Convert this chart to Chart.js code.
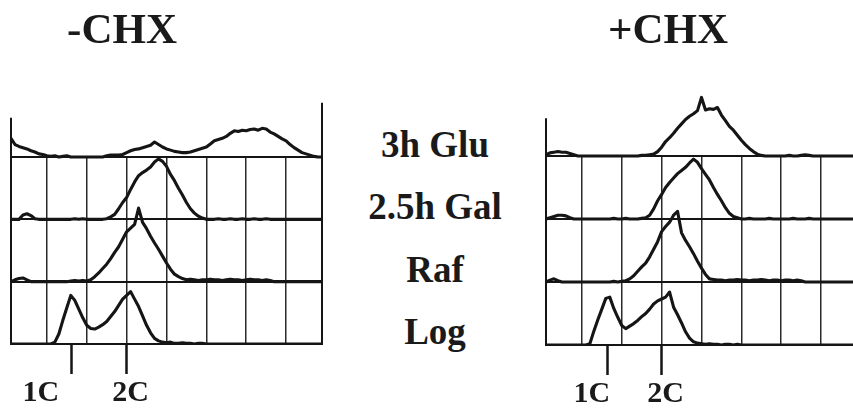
<!DOCTYPE html>
<html><head><meta charset="utf-8">
<script src="https://cdn.jsdelivr.net/npm/chart.js@4/dist/chart.umd.min.js"></script>
<style>
html,body{margin:0;padding:0;background:#fff;}
#wrap{position:relative;width:853px;height:413px;overflow:hidden;background:#fff;}
canvas{position:absolute;top:0;}
.t{position:absolute;font-family:"Liberation Serif","Times New Roman",serif;font-weight:bold;color:#1a1a1a;line-height:1;white-space:nowrap;transform:translateX(-50%);}
</style></head><body>
<div id="wrap">
  <canvas id="cl" width="335" height="413" style="left:0px"></canvas>
  <canvas id="cr" width="323" height="413" style="left:530px"></canvas>
</div>
<script>
// ---------- DATA ----------
const panelTitles = ['-CHX', '+CHX'];
const rowLabels = ['3h Glu', '2.5h Gal', 'Raf', 'Log'];
// DNA-content channels (grid lines every 10 channels, starting at channel 9)
const channels = [0,1,2,3,4,5,6,7,8,9,10,11,12,13,14,15,16,17,18,19,20,21,22,23,24,25,26,27,28,29,30,31,32,33,34,35,36,37,38,39,40,41,42,43,44,45,46,47,48,49,50,51,52,53,54,55,56,57,58,59,60,61,62,63,64,65,66,67,68,69,70,71,72,73,74,75,76,77,78];
const gridChannels = [9,19,29,39,49,59,69];
const tickLabels = ['1C', '2C'];
const tickChannelsMinus = [15.25, 29];   // tick marks, -CHX
const labelChannelsMinus = [7.5, 30];    // tick label centres, -CHX
const tickChannelsPlus = [15.4, 29];     // tick marks, +CHX
const labelChannelsPlus = [11.5, 30];    // tick label centres, +CHX

// -CHX histograms (height as fraction of one row)
const minusGlu = [0.30,0.20,0.17,0.15,0.13,0.10,0.08,0.05,0.04,0.02, 0.01,0.02,0,0.01,0.02,0,0,0,0,0, 0,0,0,0,0.02,0.03,0.03,0.03,0.04,0.07, 0.10,0.12,0.13,0.15,0.17,0.19,0.24,0.20,0.16,0.13, 0.11,0.09,0.08,0.07,0.07,0.08,0.10,0.12,0.14,0.16, 0.21,0.26,0.28,0.30,0.33,0.38,0.42,0.41,0.43,0.42, 0.44,0.45,0.43,0.46,0.45,0.40,0.37,0.33,0.29,0.26, 0.20,0.15,0.11,0.07,0.05,0.03,0.01,0,0];
const minusGal = [0,0,0,0.07,0.09,0.06,0.01,0,0,0, 0,0,0,0,0,0,0.01,0,0.01,0, 0,0,0,0,0.01,0.04,0.08,0.17,0.27,0.35, 0.48,0.60,0.70,0.75,0.79,0.84,0.92,0.97,0.93,0.85, 0.72,0.62,0.50,0.39,0.27,0.17,0.10,0.05,0.02,0, 0,0,0.01,0,0,0.01,0,0,0.01,0, 0,0.01,0,0,0.01,0,0,0,0,0, 0,0,0,0,0,0,0,0,0];
const minusRaf = [0,0.03,0.05,0.06,0.03,0,0,0,0,0, 0,0,0,0,0,0.01,0.02,0.01,0.02,0.01, 0.03,0.08,0.14,0.21,0.28,0.37,0.47,0.56,0.68,0.80, 0.86,0.92,1.18,0.95,0.85,0.73,0.62,0.52,0.41,0.30, 0.20,0.12,0.08,0.05,0.03,0.04,0.03,0.02,0.03,0.03, 0.04,0.03,0.03,0.02,0.03,0.04,0.03,0.03,0.02,0.03, 0.04,0.03,0.03,0.02,0.03,0.02,0,0,0,0, 0,0,0,0,0,0,0,0,0];
const minusLog = [0,0,0,0,0,0,0,0,0,0, 0,0.03,0.16,0.38,0.58,0.78,0.70,0.56,0.42,0.30, 0.25,0.24,0.27,0.31,0.36,0.44,0.52,0.62,0.72,0.78, 0.84,0.72,0.60,0.45,0.30,0.18,0.09,0.05,0.03,0.02, 0.03,0.01,0.01,0.02,0.01,0.01,0,0.01,0.01,0, 0,0,0,0,0,0,0,0,0,0, 0,0,0,0,0,0,0,0,0,0, 0,0,0,0,0,0,0,0,0];

// +CHX histograms
const plusGlu = [0.02,0.05,0.06,0.07,0.06,0.06,0.04,0.02,0,0, 0,0,0,0,0,0,0,0,0,0, 0,0,0,0,0.01,0.01,0.02,0.03,0.07,0.14, 0.23,0.29,0.36,0.44,0.51,0.58,0.63,0.67,0.72,0.93, 0.73,0.75,0.74,0.77,0.65,0.56,0.47,0.41,0.33,0.25, 0.18,0.12,0.07,0.03,0.01,0,0,0,0,0, 0,0.01,0,0,0.01,0.02,0.01,0,0,0, 0,0,0,0,0,0,0,0,0];
const plusGal = [0,0.02,0.04,0.06,0.06,0.05,0.02,0,0,0, 0,0,0,0,0,0,0,0.01,0,0, 0.01,0,0,0,0.01,0.02,0.06,0.16,0.29,0.39, 0.50,0.58,0.65,0.72,0.77,0.82,0.89,0.95,0.90,0.80, 0.71,0.62,0.50,0.39,0.29,0.18,0.09,0.04,0.02,0, 0,0.01,0,0,0,0,0.01,0,0,0, 0,0,0.01,0,0,0,0.01,0,0,0, 0,0,0,0,0,0,0,0,0];
const plusRaf = [0,0.03,0.05,0.02,0,0,0,0,0,0, 0,0,0,0,0,0,0,0.01,0,0.01, 0.02,0.05,0.10,0.17,0.24,0.30,0.40,0.52,0.64,0.80, 0.88,0.95,1.06,1.12,0.78,0.66,0.56,0.45,0.33,0.22, 0.12,0.05,0.04,0.03,0.03,0.02,0.03,0.03,0.04,0.03, 0.03,0.02,0.03,0.03,0.04,0.03,0.02,0.03,0.03,0.02, 0.03,0.03,0.02,0.03,0.02,0,0,0,0,0, 0,0,0,0,0,0,0,0,0];
const plusLog = [0,0,0,0,0,0,0,0,0,0, 0,0.02,0.22,0.40,0.57,0.74,0.76,0.58,0.44,0.31, 0.26,0.30,0.34,0.39,0.45,0.50,0.57,0.65,0.70,0.73, 0.76,0.84,0.60,0.48,0.35,0.21,0.11,0.05,0.03,0.02, 0.01,0.02,0.01,0.01,0,0.01,0.01,0,0.01,0, 0,0,0,0,0,0,0,0,0,0, 0,0,0,0,0,0,0,0,0,0, 0,0,0,0,0,0,0,0,0];

// ---------- CHART BUILDING ----------
const rowBase = [3, 2, 1, 0];   // stacking offset of each row (top to bottom)
const INK = '#151515';
const SERIF = '"Liberation Serif","Times New Roman",serif';

const framePlugin = {
  id: 'frame',
  beforeDatasetsDraw(chart, args, opts) {
    const {ctx, scales: {x, y}} = chart;
    ctx.save();
    ctx.strokeStyle = INK;
    ctx.lineWidth = 2;
    opts.sides.forEach(s => {
      const px = x.getPixelForValue(s.at);
      ctx.beginPath();
      ctx.moveTo(px, y.getPixelForValue(0) + 1);
      ctx.lineTo(px, y.getPixelForValue(s.top));
      ctx.stroke();
    });
    ctx.restore();
  }
};

function makePanel(canvasId, series, xMax, ticksAt, labelsAt, sides, padding) {
  const datasets = series.map((vals, i) => ({
    label: rowLabels[i],
    data: vals.map(v => v + rowBase[i]),
    borderColor: INK,
    borderWidth: 3.1,
    pointRadius: 0,
    tension: 0,
    fill: false,
    borderJoinStyle: 'round',
    clip: {left: 0, top: false, right: 0, bottom: 0}
  }));
  return new Chart(document.getElementById(canvasId), {
    type: 'line',
    data: {labels: channels, datasets},
    plugins: [framePlugin],
    options: {
      responsive: false, animation: false, devicePixelRatio: 1,
      layout: {padding},
      plugins: {legend: {display: false}, tooltip: {enabled: false}, frame: {sides}},
      scales: {
        x: {
          type: 'linear', min: 0, max: xMax, weight: 0,
          afterBuildTicks: s => { s.ticks = gridChannels.map(v => ({value: v})); },
          grid: {color: '#2a2a2a', lineWidth: 1.5, drawTicks: false},
          border: {display: false},
          ticks: {display: false}
        },
        x2: {
          type: 'linear', position: 'bottom', min: 0, max: xMax, weight: 1,
          afterBuildTicks: s => { s.ticks = ticksAt.map(v => ({value: v})); },
          grid: {drawOnChartArea: false, drawTicks: true, tickLength: 30, tickWidth: 2.5, tickColor: INK},
          border: {display: false},
          ticks: {display: false}
        },
        x3: {
          type: 'linear', position: 'bottom', min: 0, max: xMax, weight: 2,
          afterBuildTicks: s => { s.ticks = labelsAt.map(v => ({value: v})); },
          grid: {display: false, drawTicks: false},
          border: {display: false},
          ticks: {
            autoSkip: false, maxRotation: 0, padding: 1, color: '#1a1a1a',
            font: {family: SERIF, size: 30, weight: 'bold'},
            callback: (v, i) => tickLabels[i]
          }
        },
        y: {
          type: 'linear', min: 0, max: 3,
          afterBuildTicks: s => { s.ticks = rowBase.map(v => ({value: v})); },
          grid: {color: INK, lineWidth: 2, drawTicks: false},
          border: {display: false},
          ticks: {display: false}
        }
      }
    }
  });
}

const left = makePanel('cl', [minusGlu, minusGal, minusRaf, minusLog], 78,
  tickChannelsMinus, labelChannelsMinus,
  [{at: 0, top: 3.63}, {at: 78, top: 3.87}],
  {top: 157, left: 11, right: 13, bottom: 1});
const right = makePanel('cr', [plusGlu, plusGal, plusRaf, plusLog], 77,
  tickChannelsPlus, labelChannelsPlus,
  [{at: 0, top: 3.6}],
  {top: 156, left: 16, right: 0, bottom: 0});

// ---------- TEXT ----------
const wrap = document.getElementById('wrap');
function addText(txt, cx, top, size) {
  const d = document.createElement('div');
  d.className = 't';
  d.textContent = txt;
  d.style.left = cx + 'px';
  d.style.top = top + 'px';
  d.style.fontSize = size + 'px';
  wrap.appendChild(d);
}
// panel titles
addText(panelTitles[0], 122, 7, 43);
addText(panelTitles[1], 668, 7, 43);
// row labels: baseline on each row's baseline
rowLabels.forEach((lab, i) => {
  const yb = left.scales.y.getPixelForValue(rowBase[i]);
  addText(lab, 435, Math.round(yb - 0.8375 * 37), 37);
});
</script>
</body></html>
